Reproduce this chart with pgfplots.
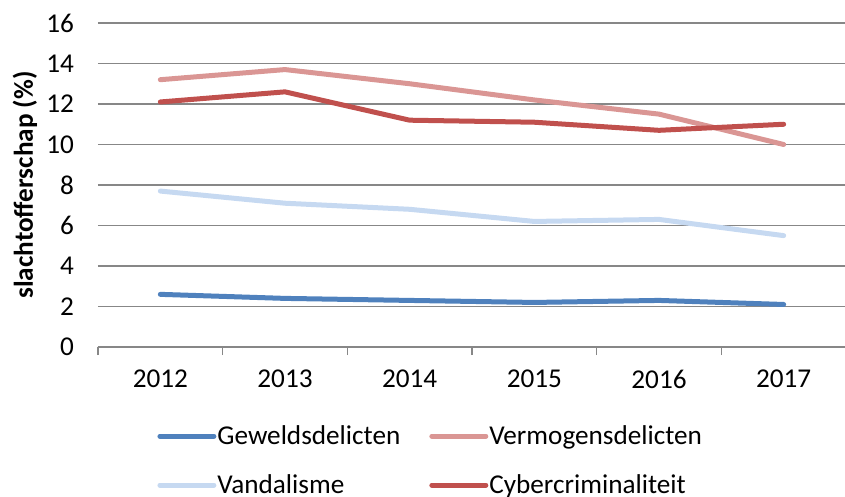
\documentclass[border=0pt]{standalone}
\usepackage{pgfplots}
\pgfplotsset{compat=1.18}
\usepackage{fontspec}
\setmainfont{Carlito}
\definecolor{geweld}{HTML}{4F81BD}
\definecolor{vermogen}{HTML}{DA9694}
\definecolor{vandal}{HTML}{C6D9F1}
\definecolor{cyber}{HTML}{C0504D}
\definecolor{gridgray}{HTML}{878787}

\begin{document}
\begin{tikzpicture}[font=\fontsize{13.6}{16}\selectfont]
\begin{axis}[
  scale only axis, width=374pt, height=162pt,
  xmin=-0.5, xmax=5.5, ymin=0, ymax=16,
  ytick={0,2,...,16},
  xtick={0,...,5}, xticklabels={2012,2013,2014,2015,2016,2017},
  minor xtick={-0.5,0.5,...,5.5},
  major tick length=0pt, minor tick length=4pt, tick align=outside,
  minor tick style={gridgray, line width=0.75pt},
  axis x line*=bottom, axis y line*=left,
  x axis line style={gridgray, line width=0.75pt},
  y axis line style={draw=none},
  ymajorgrids, grid style={gridgray, line width=0.75pt},
  /pgf/number format/assume math mode=true,
  yticklabel style={xshift=-8.5pt},
  xticklabel style={yshift=-8pt},
  ylabel={\bfseries slachtofferschap (\%)},
  ylabel style={at={(axis description cs:-0.0976,0.5)}, anchor=center},
  legend columns=2,
  legend cell align=left,
  legend style={draw=none, fill=none, anchor=north west,
    at={(axis description cs:0.0789,-0.228)},
    nodes={inner xsep=0.5pt},
    /tikz/every even column/.append style={column sep=14pt},
    row sep=9.5pt, inner sep=0pt},
  legend image code/.code={\draw[#1, line width=2.5pt, line cap=round] (0pt,0pt) -- (27pt,0pt);},
  every axis plot/.append style={line width=2.5pt, line join=round, line cap=round},
]
\coordinate (O) at (rel axis cs:0,0);
\addplot[geweld] coordinates {(0,2.6)(1,2.4)(2,2.3)(3,2.2)(4,2.3)(5,2.1)};
\addlegendentry{Geweldsdelicten}
\addplot[vermogen] coordinates {(0,13.2)(1,13.7)(2,13.0)(3,12.2)(4,11.5)(5,10.0)};
\addlegendentry{Vermogensdelicten}
\addplot[vandal] coordinates {(0,7.7)(1,7.1)(2,6.8)(3,6.2)(4,6.3)(5,5.5)};
\addlegendentry{Vandalisme}
\addplot[cyber] coordinates {(0,12.1)(1,12.6)(2,11.2)(3,11.1)(4,10.7)(5,11.0)};
\addlegendentry{Cybercriminaliteit}
\end{axis}
\pgfresetboundingbox
\path[use as bounding box] ([shift={(-49pt,-75pt)}]O) rectangle ([shift={(373.5pt,173.5pt)}]O);
\end{tikzpicture}
\end{document}
